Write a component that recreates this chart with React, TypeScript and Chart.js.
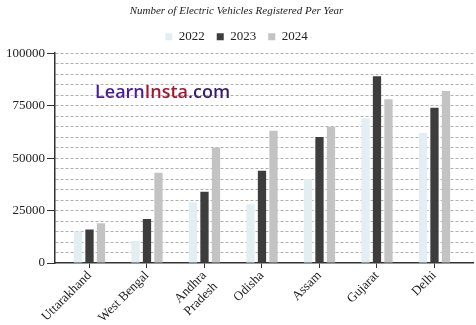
import React, { useEffect, useRef } from "react";
import { Chart, registerables } from "chart.js";

Chart.register(...registerables);

const categories: (string | string[])[] = [
  "Uttarakhand",
  "West Bengal",
  ["Andhra", "Pradesh"],
  "Odisha",
  "Assam",
  "Gujarat",
  "Delhi",
];
const seriesNames = ["2022", "2023", "2024"];
const values2022 = [15000, 10500, 29000, 28000, 40000, 69000, 62000];
const values2023 = [16000, 21000, 34000, 44000, 60000, 89000, 74000];
const values2024 = [19000, 43000, 55000, 63000, 65000, 78000, 82000];
const yTickLabels = [0, 25000, 50000, 75000, 100000];
const titleText = "Number of Electric Vehicles Registered Per Year";

const SERIF = "'Liberation Serif', 'DejaVu Serif', serif";

const watermark = {
  id: "watermark",
  afterDraw(chart: any) {
    const ctx = chart.ctx;
    ctx.save();
    ctx.font = "600 18px 'Open Sans', sans-serif";
    ctx.textBaseline = "alphabetic";
    let x = 95;
    const y = 98;
    const parts: [string, string][] = [
      ["Learn", "#4b1c9c"],
      ["Insta", "#a5162f"],
      [".com", "#3b1d6e"],
    ];
    for (const [t, c] of parts) {
      ctx.fillStyle = c;
      ctx.fillText(t, x, y);
      x += ctx.measureText(t).width;
    }
    ctx.restore();
  },
};

export default function App() {
  const ref = useRef<HTMLCanvasElement>(null);
  useEffect(() => {
    document.body.style.margin = "0";
    const toPts = (arr: number[]) => arr.map((v, i) => ({ x: i, y: v }));
    const chart = new Chart(ref.current!, {
      type: "bar",
      data: {
        datasets: [
          {
            label: seriesNames[0],
            data: toPts(values2022) as any,
            backgroundColor: "#e3eef2",
          },
          {
            label: seriesNames[1],
            data: toPts(values2023) as any,
            backgroundColor: "#3d3d3d",
          },
          {
            label: seriesNames[2],
            data: toPts(values2024) as any,
            backgroundColor: "#c3c3c3",
          },
        ],
      },
      options: {
        animation: false,
        responsive: false,
        layout: { padding: { left: 0, right: 3, top: 0, bottom: 0 } },
        datasets: {
          bar: { barPercentage: 0.72, categoryPercentage: 0.6 },
        },
        plugins: {
          tooltip: { enabled: false },
          title: {
            display: true,
            text: titleText,
            color: "#222",
            font: { family: SERIF, size: 11, style: "italic", weight: "normal" },
            padding: { top: 5, bottom: 0 },
          },
          legend: {
            display: true,
            labels: {
              boxWidth: 7,
              boxHeight: 7,
              padding: 12,
              color: "#222",
              font: { family: SERIF, size: 13 },
            },
          },
        },
        scales: {
          x: {
            type: "linear",
            offset: false,
            min: -0.6,
            max: 6.67,
            afterBuildTicks: (scale: any) => {
              scale.ticks = categories.map((_, i) => ({ value: i }));
            },
            afterFit: (scale: any) => {
              scale.height = 62;
            },
            ticks: {
              autoSkip: false,
              minRotation: 45,
              maxRotation: 45,
              padding: 0,
              color: "#222",
              font: { family: SERIF, size: 13 },
              callback: (v: any) => categories[Math.round(Number(v))] as any,
            },
            grid: {
              display: true,
              offset: false,
              drawOnChartArea: false,
              drawTicks: true,
              tickLength: 5,
              tickColor: "#333",
            },
            border: { display: true, color: "#333", width: 1.5 },
          },
          y: {
            min: 0,
            max: 100000,
            afterBuildTicks: (scale: any) => {
              const t = [];
              for (let v = 0; v <= 100000; v += 5000) t.push({ value: v });
              scale.ticks = t;
            },
            afterFit: (scale: any) => {
              scale.width = 55;
            },
            ticks: {
              autoSkip: false,
              padding: 2,
              color: "#222",
              font: { family: SERIF, size: 13 },
              callback: (v: any) =>
                yTickLabels.includes(Number(v)) ? String(v) : "",
            },
            grid: {
              color: (c: any) =>
                c.tick && c.tick.value === 0 ? "rgba(0,0,0,0)" : "#b0b0b0",
              lineWidth: 1,
              tickLength: 8,
              tickColor: (c: any) =>
                c.tick && yTickLabels.includes(c.tick.value) ? "#333" : "rgba(0,0,0,0)",
              tickBorderDash: [],
            } as any,
            border: { display: true, color: "#333", width: 1.5, dash: [3, 2] } as any,
          },
        },
      } as any,
      plugins: [watermark],
    });
    return () => chart.destroy();
  }, []);
  return <canvas ref={ref} width={476} height={325} />;
}
